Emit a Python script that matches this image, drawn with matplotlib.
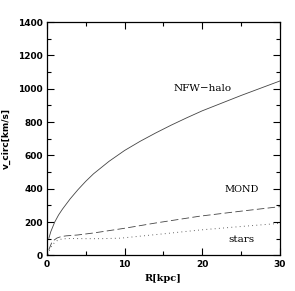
import matplotlib
matplotlib.use("Agg")
import matplotlib.pyplot as plt
from matplotlib.ticker import MultipleLocator

# rotation curves
r_nfw = [0.25, 0.5, 1, 1.5, 2, 3, 4, 5, 6, 8, 10, 12, 14, 16, 18, 20, 25, 30]
v_nfw = [103, 143, 200, 243, 278, 340, 395, 445, 490, 565, 630, 685, 735,
         782, 826, 868, 960, 1047]

r_mond = [0.25, 0.6, 0.94, 1.3, 1.8, 2.5, 3.94, 6, 9.95, 14, 19.7, 25, 30]
v_mond = [35, 75, 93, 105, 113, 118, 123, 135, 163, 195, 236, 266, 293]

r_stars = [0.15, 0.4, 0.7, 1, 1.4, 2, 3, 5, 7, 9.5, 12, 15, 19.7, 25, 30]
v_stars = [5, 40, 63, 78, 92, 100, 102, 101, 101, 104, 116, 130, 153, 174, 193]

fig = plt.figure(figsize=(2.95, 2.91), dpi=100)
ax = fig.add_axes([0.159, 0.122, 0.790, 0.802])

lc = "#444444"
ax.plot(r_nfw, v_nfw, "-", color=lc, lw=0.6)
ax.plot(r_mond, v_mond, color=lc, lw=0.6, dashes=(9, 4))
ax.plot(r_stars, v_stars, color=lc, lw=0.7, dashes=(0.8, 3.5))

ax.text(20.1, 1000, "NFW\u2212halo", family="DejaVu Serif", fontsize=7.5,
        ha="center", va="center")
ax.text(25.1, 393, "MOND", family="DejaVu Serif", fontsize=7,
        ha="center", va="center")
ax.text(25.1, 93, "stars", family="DejaVu Serif", fontsize=7.5,
        ha="center", va="center")

ax.set_xlim(0, 30)
ax.set_ylim(0, 1400)
ax.xaxis.set_major_locator(MultipleLocator(10))
ax.xaxis.set_minor_locator(MultipleLocator(5))
ax.yaxis.set_major_locator(MultipleLocator(200))
ax.yaxis.set_minor_locator(MultipleLocator(100))
ax.tick_params(which="both", direction="in", top=True, right=True,
               width=0.8, labelsize=6.5, pad=3)
ax.tick_params(which="major", length=5)
ax.tick_params(which="minor", length=3)
for lab in ax.get_xticklabels() + ax.get_yticklabels():
    lab.set_fontweight("bold")
for s in ax.spines.values():
    s.set_linewidth(0.9)

ax.set_xlabel("R[kpc]", family="DejaVu Serif", fontsize=7, fontweight="bold",
              labelpad=4)
ax.set_ylabel("v_circ[km/s]", fontsize=6.5, fontweight="bold", labelpad=5)

fig.savefig("out.png", dpi=100)
